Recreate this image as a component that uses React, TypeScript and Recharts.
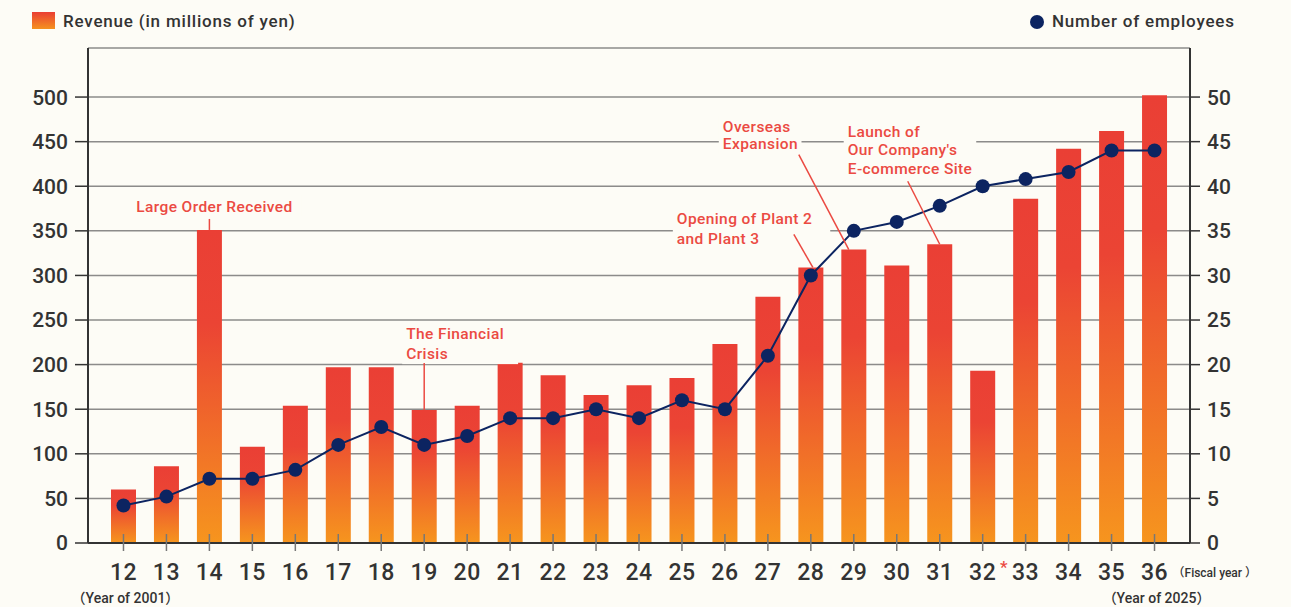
import React from "react";
import {
  ComposedChart, Bar, Line, XAxis, YAxis, CartesianGrid, ReferenceDot,
} from "recharts";

const BG = "#fdfcf6";
const RED = "#eb4a42";
const NAVY = "#0c2461";
const FONT = "Roboto, 'Noto Sans CJK JP', sans-serif";

const years = ["12", "13", "14", "15", "16", "17", "18", "19", "20", "21", "22", "23", "24", "25", "26", "27", "28", "29", "30", "31", "32", "33", "34", "35", "36"];
const revenue = [60, 86, 351, 108, 154, 197, 197, 149, 154, 202, 188, 166, 177, 185, 223, 276, 309, 329, 311, 335, 193, 386, 442, 462, 502];
const employees = [4.2, 5.2, 7.2, 7.2, 8.2, 11, 13, 11, 12, 14, 14, 15, 14, 16, 15, 21, 30, 35, 36, 37.8, 40, 40.8, 41.6, 44, 44];
const leftTicks = [0, 50, 100, 150, 200, 250, 300, 350, 400, 450, 500];
const rightTicks = [0, 5, 10, 15, 20, 25, 30, 35, 40, 45, 50];

const data = years.map((y, i) => ({ year: y, revenue: revenue[i], employees: employees[i] }));

// notes hung on the top of a bar: text offset + leader line start, relative to the bar top
const notes = [
  { year: "14", lines: ["Large Order Received"], anchor: "middle", dx: 5, dys: [-24], lead: [0, -11, 0, 0] },
  { year: "19", lines: ["The Financial", "Crisis"], anchor: "start", dx: -18, dys: [-77, -57], lead: [0, -47, 0, 0] },
  { year: "28", lines: ["Opening of Plant 2", "and Plant 3"], anchor: "start", dx: -134, dys: [-49, -29], lead: [-17, -33, 2, 0] },
  { year: "29", lines: ["Overseas", "Expansion"], anchor: "start", dx: -131, dys: [-123, -106], lead: [-55, -95, -5, 0] },
  { year: "31", lines: ["Launch of", "Our Company's", "E-commerce Site"], anchor: "start", dx: -92, dys: [-113, -95, -76], lead: [-32, -63, 0, 0] },
];

function XTick(props: any) {
  const { x, y, payload } = props;
  const v = payload.value;
  return (
    <g fontFamily={FONT} fontWeight={500}>
      <line x1={x} x2={x} y1={y - 9} y2={y + 8} stroke="#777" strokeWidth={1.5} />
      <text x={x} y={y + 37} textAnchor="middle" fontSize={23} fill="#333" letterSpacing={0.5}>{v}</text>
      {v === "32" && (
        <text x={x + 21} y={y + 30} textAnchor="middle" fontSize={17} fill={RED}>*</text>
      )}
      {v === "12" && (
        <text x={x + 2} y={y + 60} textAnchor="middle" fontSize={14} fill="#333">（Year of 2001）</text>
      )}
      {v === "36" && (
        <>
          <text x={x + 18} y={y + 34} textAnchor="start" fontSize={12} fill="#333">（Fiscal year ）</text>
          <text x={x + 2} y={y + 60} textAnchor="middle" fontSize={14} fill="#333">（Year of 2025）</text>
        </>
      )}
    </g>
  );
}

function noteShape(n: typeof notes[number]) {
  return (p: any) => {
    const { cx, cy } = p;
    const w = Math.max(...n.lines.map((l) => l.length)) * 8.3 + 8;
    const x0 = n.anchor === "middle" ? cx + n.dx - w / 2 : cx + n.dx - 4;
    const top = cy + n.dys[0] - 11;
    const h = n.dys[n.dys.length - 1] - n.dys[0] + 22;
    return (
      <g>
        <rect x={x0} y={top} width={w} height={h} fill={BG} />
        <line x1={cx + n.lead[0]} y1={cy + n.lead[1]} x2={cx + n.lead[2]} y2={cy + n.lead[3]} stroke={RED} strokeWidth={1.5} />
        {n.lines.map((l, i) => (
          <text key={i} x={cx + n.dx} y={cy + n.dys[i]} dy="0.36em" textAnchor={n.anchor} fontSize={15.5} letterSpacing={0.4} fontWeight={500} fill={RED} fontFamily={FONT}>
            {l}
          </text>
        ))}
      </g>
    );
  };
}

const legendText = { position: "absolute" as const, top: 10, fontSize: 17, fontWeight: 500, letterSpacing: 0.8, color: "#333", lineHeight: "22px" };

export default function App() {
  return (
    <div style={{ position: "absolute", left: 0, top: 0, width: 1291, height: 607, background: BG, fontFamily: FONT }}>
      {/* legends */}
      <div style={{ position: "absolute", left: 32, top: 12, width: 23, height: 17, background: "linear-gradient(#ea3e33, #f5921f)" }} />
      <div style={{ ...legendText, left: 63 }}>Revenue (in millions of yen)</div>
      <div style={{ position: "absolute", left: 1030, top: 15, width: 14, height: 14, borderRadius: 7, background: NAVY }} />
      <div style={{ ...legendText, left: 1052 }}>Number of employees</div>

      <div style={{ position: "absolute", left: 0, top: 0 }}>
        <ComposedChart width={1291} height={607} data={data} margin={{ top: 48, right: 11, bottom: 14, left: 8 }}>
          <defs>
            <linearGradient id="revGrad" x1="0" y1="0" x2="0" y2="1">
              <stop offset="0%" stopColor="#ea3f35" />
              <stop offset="30%" stopColor="#eb4434" />
              <stop offset="100%" stopColor="#f6951e" />
            </linearGradient>
          </defs>
          <XAxis
            dataKey="year"
            padding={{ left: 14, right: 14 }}
            height={50}
            tickSize={0}
            tickMargin={0}
            tick={<XTick />}
            interval={0}
            axisLine={{ stroke: "#333", strokeWidth: 2 }}
          />
          <YAxis
            yAxisId="left"
            width={80}
            domain={[0, 555]}
            ticks={leftTicks}
            tickSize={13}
            tickMargin={7}
            tick={{ fontSize: 21, fill: "#333", fontFamily: FONT, fontWeight: 500 }}
            tickLine={{ stroke: "#333", strokeWidth: 1.5 }}
            axisLine={{ stroke: "#333", strokeWidth: 2 }}
          />
          <YAxis
            yAxisId="right"
            orientation="right"
            width={90}
            domain={[0, 55.5]}
            ticks={rightTicks}
            tickSize={10}
            tickMargin={7}
            tick={{ fontSize: 21, fill: "#333", fontFamily: FONT, fontWeight: 500 }}
            tickLine={{ stroke: "#333", strokeWidth: 1.5 }}
            axisLine={{ stroke: "#333", strokeWidth: 2 }}
          />
          <Bar yAxisId="left" dataKey="revenue" barSize={25} fill="url(#revGrad)" isAnimationActive={false} />
          <CartesianGrid yAxisId="left" vertical={false} stroke="#666" strokeOpacity={0.75} strokeWidth={1.5} />
          {notes.map((n) => (
            <ReferenceDot
              key={n.year}
              yAxisId="left"
              x={n.year}
              y={revenue[years.indexOf(n.year)]}
              r={0}
              shape={noteShape(n)}
            />
          ))}
          <Line
            yAxisId="right"
            dataKey="employees"
            stroke={NAVY}
            strokeWidth={2}
            dot={{ r: 7, fill: NAVY, stroke: NAVY, strokeWidth: 0 }}
            isAnimationActive={false}
          />
        </ComposedChart>
      </div>
    </div>
  );
}
